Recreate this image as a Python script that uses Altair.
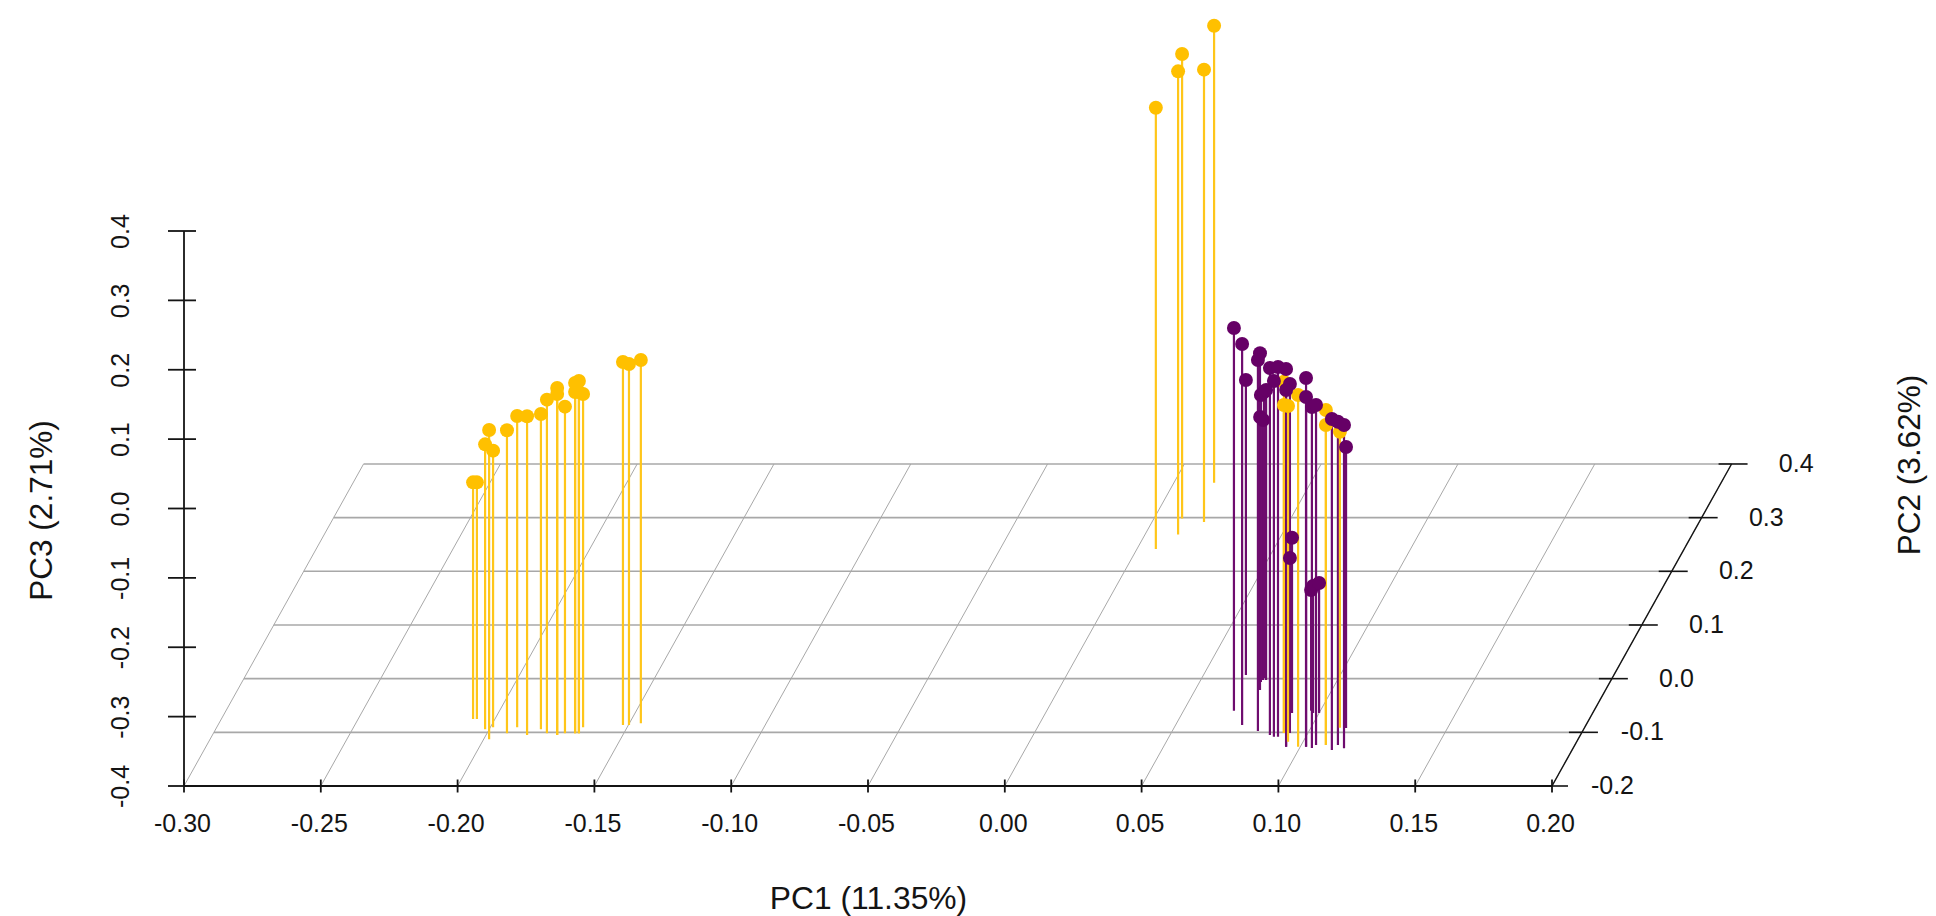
import altair as alt
import pandas as pd

# ---- values -----------------------------------------------------------------
YELLOW_PC1 = [-0.2080,-0.2066,-0.2015,-0.1980,-0.1990,-0.1927,-0.1902,-0.1850,-0.1811,-0.1781,-0.1740,-0.1740,
              -0.1715,-0.1678,-0.1678,-0.1664,-0.1664,-0.1661,-0.1520,-0.1498,-0.1458,
              0.0069,0.0121,0.0103,0.0190,0.0147,
              0.0912,0.0912,0.0945,0.0992,0.1090,0.1090,0.1106]
YELLOW_PC2 = [-0.0752,-0.0752,-0.0944,-0.1130,-0.0906,-0.1018,-0.0906,-0.1050,-0.0944,-0.1018,-0.1050,-0.1050,
              -0.1018,-0.1018,-0.1018,-0.1018,-0.1018,-0.0906,-0.0863,-0.0863,-0.0832,
              0.2416,0.2684,0.2982,0.2919,0.3649,
              -0.1012,-0.1012,-0.1175,-0.1268,-0.1236,-0.1236,-0.0914]
YELLOW_PC3 = [-0.0588,-0.0588,0.0108,0.0458,-0.0013,0.0368,0.0487,0.0594,0.0545,0.0809,0.1002,0.0915,
              0.0708,0.1049,0.0920,0.1078,0.0920,0.0804,0.1232,0.1204,0.1237,
              0.2361,0.2678,0.2697,0.2520,0.2589,
              0.1064,0.0728,0.0839,0.1070,0.0829,0.0613,0.0267]

PURPLE_PC1 = [0.0684,0.0743,0.0655,0.0737,0.0813,0.0707,0.0728,0.0724,0.0727,0.0865,0.0898,0.0948,0.0883,0.0739,
              0.0934,0.0948,0.1021,0.1021,0.1045,0.1054,0.1122,0.1134,0.1163,0.1129,0.0901,0.0934,0.0966,0.0978,0.1000]
PURPLE_PC2 = [-0.0597,-0.0863,0.0068,-0.0211,-0.0975,0.0068,-0.0025,-0.0062,0.0012,-0.1050,-0.1081,-0.1268,-0.1081,-0.0025,
              -0.1012,-0.1268,-0.1268,-0.1268,-0.1292,-0.1236,-0.1329,-0.1236,-0.1298,-0.0919,-0.0640,-0.1012,-0.0597,-0.0640,-0.0640]
PURPLE_PC3 = [0.1516,0.1492,0.0252,0.0853,0.1348,-0.0281,-0.0252,0.0137,0.0123,0.1290,0.1329,0.1444,0.1127,0.0180,
              0.1031,0.1142,0.1315,0.1041,0.0915,0.0901,0.0771,0.0660,0.0660,0.0050,-0.1473,-0.1477,-0.2260,-0.2169,-0.2126]

PC1_TICKS = [-0.30,-0.25,-0.20,-0.15,-0.10,-0.05,0.00,0.05,0.10,0.15,0.20]
PC2_TICKS = [-0.2,-0.1,0.0,0.1,0.2,0.3,0.4]
PC3_TICKS = [-0.4,-0.3,-0.2,-0.1,0.0,0.1,0.2,0.3,0.4]
PC2_LABELS = ["-0.2","-0.1","0.0","0.1","0.2","0.3","0.4"]

TITLE_PC1 = "PC1 (11.35%)"
TITLE_PC2 = "PC2 (3.62%)"
TITLE_PC3 = "PC3 (2.71%)"

YELLOW = "#FFC000"
YELLOW_STEM = "#FFC61A"
PURPLE = "#660066"
PURPLE_STEM = "#6E0C6E"
FONT = "Liberation Sans"
INK = "#141414"

# ---- oblique projection of the 3-D box (scatterplot3d style) -----------------
PC1_MIN, PC1_MAX = -0.30, 0.20
PC2_MIN, PC2_MAX = -0.2, 0.4
PC3_MIN, PC3_MAX = -0.4, 0.4
KX, KY = 0.10939, 0.77362


def px(a, b):
    return a + (b - PC2_MIN) * KX


def py(c, b):
    return c + (b - PC2_MIN) * KY


W, H = 1552, 776
xscale = alt.Scale(domain=[-0.3, 0.26725], nice=False, zero=False)
yscale = alt.Scale(domain=[-0.4, 0.71856], nice=False, zero=False)

minus_fix = "replace(format(datum.value,'{}'),'\u2212','-')"

x_axis = alt.Axis(
    values=PC1_TICKS, labelExpr=minus_fix.format(".2f"), ticks=False, domain=False, grid=False,
    labelFontSize=25, labelFont=FONT, labelColor=INK, labelPadding=25, labelFlush=False, labelOverlap=False,
    labelOffset=-2,
    title=TITLE_PC1, titleFont=FONT, titleFontSize=31.8, titleFontWeight="normal", titleColor=INK,
    titleX=684, titleY=112, titleBaseline="middle", titleAnchor="middle", titleAlign="center")
y_axis = alt.Axis(
    values=PC3_TICKS, labelExpr=minus_fix.format(".1f"), ticks=False, domain=False, grid=False,
    labelFontSize=25, labelFont=FONT, labelColor=INK, labelAngle=270, labelAlign="center",
    labelBaseline="middle", labelPadding=64, labelOverlap=False, labelFlush=False,
    title=TITLE_PC3, titleFont=FONT, titleFontSize=31.5, titleFontWeight="normal", titleColor=INK,
    titleX=-142, titleY=500, titleBaseline="middle", titleAnchor="middle", titleAlign="center", titleAngle=270)

X = lambda f: alt.X(f, type="quantitative", scale=xscale, axis=x_axis)
Y = lambda f: alt.Y(f, type="quantitative", scale=yscale, axis=y_axis)


def points(pc1, pc2, pc3):
    return pd.DataFrame({
        "x": [px(a, b) for a, b in zip(pc1, pc2)],
        "head": [py(c, b) for c, b in zip(pc3, pc2)],
        "foot": [py(PC3_MIN, b) for b in pc2],
    })


yellow = points(YELLOW_PC1, YELLOW_PC2, YELLOW_PC3)
purple = points(PURPLE_PC1, PURPLE_PC2, PURPLE_PC3)

grid_h = pd.DataFrame({
    "x": [px(PC1_MIN, b) for b in PC2_TICKS],
    "x2": [px(PC1_MAX, b) for b in PC2_TICKS],
    "y": [py(PC3_MIN, b) for b in PC2_TICKS],
})
grid_s = pd.DataFrame({
    "x": [px(a, PC2_MIN) for a in PC1_TICKS],
    "x2": [px(a, PC2_MAX) for a in PC1_TICKS],
    "y": [py(PC3_MIN, PC2_MIN)] * len(PC1_TICKS),
    "y2": [py(PC3_MIN, PC2_MAX)] * len(PC1_TICKS),
})

grid_h_layer = alt.Chart(grid_h).mark_rule(color="#a8a8a8", strokeWidth=1.6).encode(
    x=X("x"), x2="x2:Q", y=Y("y"))
grid_s_layer = alt.Chart(grid_s).mark_rule(color="#a8a8a8", strokeWidth=1).encode(
    x=X("x"), x2="x2:Q", y=Y("y"), y2="y2:Q")

# black frame
base_axis = alt.Chart(pd.DataFrame({"x": [PC1_MIN], "x2": [PC1_MAX], "y": [PC3_MIN]})).mark_rule(
    color=INK, strokeWidth=1.8).encode(x=X("x"), x2="x2:Q", y=Y("y"))
left_axis = alt.Chart(pd.DataFrame({"x": [PC1_MIN], "y": [PC3_MIN], "y2": [PC3_MAX]})).mark_rule(
    color=INK, strokeWidth=1.8).encode(x=X("x"), y=Y("y"), y2="y2:Q")
right_axis = alt.Chart(pd.DataFrame({
    "x": [px(PC1_MAX, PC2_MIN)], "x2": [px(PC1_MAX, PC2_MAX)],
    "y": [py(PC3_MIN, PC2_MIN)], "y2": [py(PC3_MIN, PC2_MAX)]})).mark_rule(
    color=INK, strokeWidth=1.4).encode(x=X("x"), x2="x2:Q", y=Y("y"), y2="y2:Q")

x_ticks = alt.Chart(pd.DataFrame({"x": PC1_TICKS, "y": [PC3_MIN] * len(PC1_TICKS)})).mark_tick(
    orient="vertical", size=13, thickness=1.8, color=INK, opacity=1).encode(x=X("x"), y=Y("y"))
z_ticks = alt.Chart(pd.DataFrame({"x": [PC1_MIN] * len(PC3_TICKS), "y": PC3_TICKS})).mark_tick(
    orient="horizontal", size=28, thickness=1.8, color=INK, opacity=1, xOffset=-2).encode(x=X("x"), y=Y("y"))
y_tick_df = pd.DataFrame({
    "x": [px(PC1_MAX, b) for b in PC2_TICKS],
    "y": [py(PC3_MIN, b) for b in PC2_TICKS],
    "label": PC2_LABELS,
})
y_ticks = alt.Chart(y_tick_df).mark_tick(
    orient="horizontal", size=29, thickness=1.6, color=INK, opacity=1, xOffset=1.5).encode(x=X("x"), y=Y("y"))
y_labels = alt.Chart(y_tick_df).mark_text(
    align="right", baseline="middle", dx=82, fontSize=25, font=FONT, color=INK).encode(
    x=X("x"), y=Y("y"), text="label:N")
pc2_title = alt.Chart(pd.DataFrame({"t": [TITLE_PC2]})).mark_text(
    angle=270, align="center", baseline="middle", fontSize=31.5, font=FONT, color=INK).encode(
    x=alt.value(1727), y=alt.value(455), text="t:N")


def stems(df, color):
    return alt.Chart(df).mark_rule(color=color, strokeWidth=2.2).encode(
        x=X("x"), y=Y("foot"), y2="head:Q")


def heads(df, color):
    return alt.Chart(df).mark_point(filled=True, shape="circle", size=195, color=color, opacity=1).encode(
        x=X("x"), y=Y("head"))


chart = alt.layer(
    grid_h_layer, grid_s_layer, base_axis, left_axis, right_axis, x_ticks, z_ticks, y_ticks, y_labels, pc2_title,
    stems(purple, PURPLE_STEM), stems(yellow, YELLOW_STEM), heads(yellow, YELLOW), heads(purple, PURPLE),
).properties(
    width=W, height=H, background="white",
    autosize=alt.AutoSizeParams(type="none"),
    padding={"left": 176, "top": 2, "right": 192, "bottom": 130},
).configure_view(stroke=None)

chart.save("out.html", embed_options={"renderer": "svg", "actions": False})
